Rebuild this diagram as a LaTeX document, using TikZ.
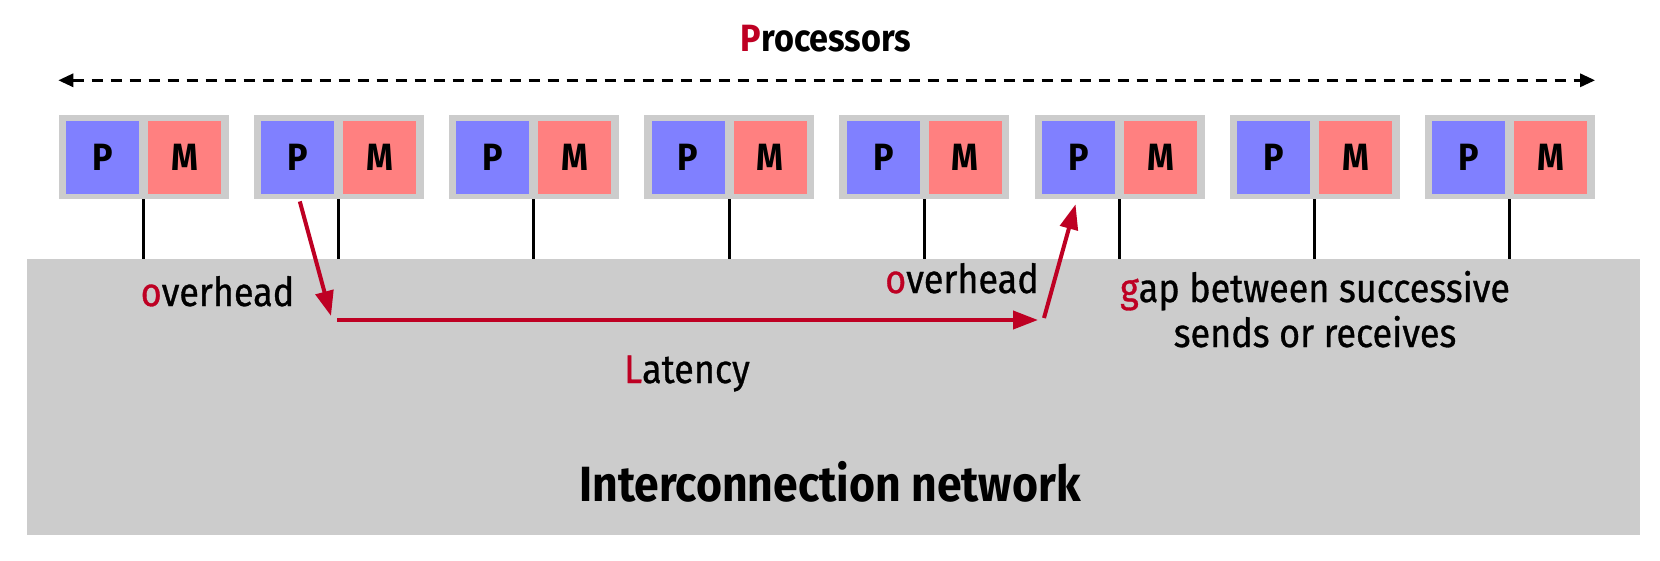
\documentclass[tikz,border=0pt]{standalone}
\usepackage{fontspec}
\setmainfont{Fira Sans}[FakeStretch=0.9]
\newfontfamily\labelfont{Fira Sans}[FakeStretch=0.9,FakeBold=0.8]
\usetikzlibrary{arrows.meta}
\definecolor{procblue}{RGB}{128,128,255}
\definecolor{memred}{RGB}{255,128,128}
\definecolor{netgray}{RGB}{204,204,204}
\definecolor{accent}{RGB}{190,0,35}

\begin{document}
\begin{tikzpicture}[x=1pt,y=-1pt]
\tikzstyle{unit}=[fill=netgray,minimum width=170pt,minimum height=84pt,inner sep=0pt]
\tikzstyle{cell}=[minimum width=73pt,minimum height=73pt,inner sep=0pt,font=\fontsize{38}{40}\selectfont\bfseries]
\tikzstyle{lbl}=[anchor=base,inner sep=0pt,align=center,font=\fontsize{40}{45}\selectfont\labelfont]
\tikzstyle{msg}=[accent,line width=4pt,-{Triangle[length=25pt,width=18pt]}]

\useasboundingbox (0,0) rectangle (1660,560);

\node[fill=netgray,minimum width=1613pt,minimum height=276pt,inner sep=0pt,anchor=north west] (net) at (27,259) {};

\foreach \i in {0,...,7} {
\node[unit] (u\i) at (143.5+195.2*\i,157) {};
\node[cell,fill=procblue] (p\i) at ([xshift=-41pt]u\i.center) {P};
\node[cell,fill=memred] (m\i) at ([xshift=41pt]u\i.center) {M};
\draw[line width=3pt] (u\i.south) -- (u\i.south |- net.north);
}

\draw[line width=3pt,dash pattern=on 11pt off 8pt,{Triangle[length=15pt,width=13pt]}-{Triangle[length=15pt,width=13pt]}]
([yshift=34.5pt]u0.north west) -- ([yshift=34.5pt]u7.north east);
\node[lbl,font=\fontsize{38}{40}\selectfont\bfseries] (procs) at (826,51) {\textcolor{accent}{P}rocessors};

\coordinate (oa) at (331,316);
\coordinate (la) at (337,320);
\coordinate (lb) at (1038,320);
\coordinate (ob) at (1044,318);
\draw[msg,shorten <=8pt] (p1.south) -- (oa);
\draw[msg] (la) -- (lb);
\draw[msg,shorten >=11pt] (ob) -- (p5.south);

\node[lbl] (ovl) at (217.5,306) {\textcolor{accent}{o}verhead};
\node[lbl] (ovr) at (962,293) {\textcolor{accent}{o}verhead};
\node[lbl] (lat) at (687,383) {\textcolor{accent}{L}atency};
\node[lbl] (gap) at (1315,347) {\textcolor{accent}{g}ap between successive\\sends or receives};
\node[lbl,font=\fontsize{49.5}{55}\selectfont\bfseries] (icn) at (830,501) {Interconnection network};
\end{tikzpicture}
\end{document}
